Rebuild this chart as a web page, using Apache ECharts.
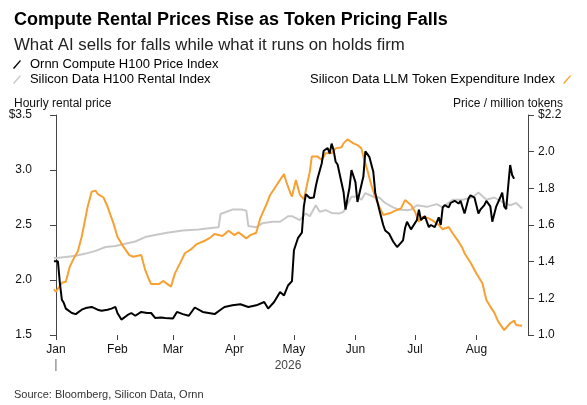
<!DOCTYPE html>
<html>
<head>
<meta charset="utf-8">
<script src="https://cdn.jsdelivr.net/npm/echarts@6/dist/echarts.min.js"></script>
<style>
html, body { margin: 0; padding: 0; background: #fff; }
#chart { width: 587px; height: 405px; }
</style>
</head>
<body>
<div id="chart"></div>
<script>
// days counted from Jan 1 2026
var ornnDays = [-1, 1, 2, 3, 4, 5, 8, 10, 13, 15, 18, 21, 23, 26, 28, 30, 31, 33, 36, 38, 40, 43, 46, 48, 50, 53, 55, 59, 61, 64, 67, 70, 74, 77, 80, 83, 85, 89, 93, 97, 101, 105, 107, 110, 113, 115, 117, 119, 120, 122, 124, 125, 126, 128, 130, 131, 132, 134, 135, 137, 138, 139, 140, 141, 142, 143, 145, 146, 147, 148, 149, 151, 152, 153, 155, 156, 158, 160, 161, 163, 165, 166, 168, 170, 172, 173, 175, 176, 177, 179, 180, 182, 183, 184, 186, 188, 189, 191, 193, 194, 195, 196, 198, 199, 201, 203, 204, 206, 208, 209, 211, 213, 214, 216, 217, 219, 220, 222, 224, 225, 226, 227, 228, 229, 230, 231];
var ornnPrice = [2.17, 2.17, 1.97, 1.82, 1.79, 1.74, 1.70, 1.69, 1.73, 1.745, 1.755, 1.73, 1.72, 1.73, 1.74, 1.755, 1.70, 1.64, 1.68, 1.70, 1.675, 1.71, 1.70, 1.70, 1.655, 1.66, 1.655, 1.65, 1.71, 1.69, 1.675, 1.75, 1.71, 1.70, 1.69, 1.73, 1.755, 1.77, 1.78, 1.755, 1.77, 1.80, 1.74, 1.80, 1.89, 1.86, 1.95, 1.99, 2.27, 2.38, 2.43, 2.67, 2.78, 2.745, 2.75, 2.85, 2.93, 3.06, 3.175, 3.20, 3.15, 3.24, 3.18, 3.075, 3.05, 3.06, 2.80, 2.64, 2.745, 2.84, 3.00, 2.89, 2.71, 2.70, 2.94, 3.17, 3.12, 2.985, 2.79, 2.64, 2.50, 2.45, 2.42, 2.35, 2.30, 2.32, 2.36, 2.47, 2.53, 2.46, 2.47, 2.545, 2.64, 2.545, 2.58, 2.48, 2.50, 2.48, 2.57, 2.50, 2.66, 2.68, 2.66, 2.70, 2.72, 2.695, 2.72, 2.605, 2.74, 2.77, 2.75, 2.605, 2.64, 2.68, 2.72, 2.67, 2.53, 2.67, 2.75, 2.795, 2.67, 2.645, 2.85, 3.045, 2.955, 2.92];

var rentalDays = [-1, 5, 10, 15, 20, 25, 30, 35, 40, 45, 50, 56, 64, 72, 77, 82, 83, 86, 89, 94, 96, 97, 101, 104, 109, 113, 117, 119, 123, 126, 128, 131, 133, 136, 139, 143, 145, 149, 151, 154, 156, 160, 163, 166, 170, 173, 177, 179, 182, 187, 192, 195, 200, 205, 210, 213, 217, 221, 226, 229, 232, 235];
var rentalPrice = [2.197, 2.21, 2.22, 2.24, 2.265, 2.30, 2.31, 2.33, 2.35, 2.39, 2.41, 2.43, 2.45, 2.46, 2.47, 2.48, 2.60, 2.62, 2.64, 2.64, 2.63, 2.49, 2.48, 2.515, 2.53, 2.53, 2.58, 2.58, 2.545, 2.605, 2.58, 2.68, 2.62, 2.635, 2.61, 2.605, 2.62, 2.757, 2.76, 2.73, 2.79, 2.757, 2.75, 2.70, 2.66, 2.64, 2.635, 2.64, 2.68, 2.665, 2.69, 2.66, 2.73, 2.73, 2.75, 2.795, 2.73, 2.75, 2.70, 2.68, 2.70, 2.65];

var tokenDays = [-1, 0, 3, 5, 7, 9, 11, 13, 15, 16, 17, 18, 20, 21, 24, 26, 29, 31, 34, 37, 39, 43, 45, 47, 48, 52, 54, 58, 60, 63, 65, 68, 71, 75, 78, 80, 84, 87, 90, 92, 96, 98, 101, 103, 106, 108, 111, 113, 115, 116, 118, 119, 121, 122, 123, 125, 126, 128, 129, 132, 134, 136, 139, 141, 144, 145, 147, 150, 152, 154, 155, 157, 159, 161, 163, 165, 166, 169, 172, 174, 176, 179, 181, 183, 185, 188, 190, 193, 195, 198, 200, 203, 205, 206, 209, 210, 212, 215, 217, 219, 221, 223, 226, 227, 229, 231, 232, 235];
var tokenPrice = [1.249, 1.236, 1.285, 1.29, 1.373, 1.418, 1.455, 1.536, 1.645, 1.70, 1.69, 1.782, 1.787, 1.77, 1.75, 1.70, 1.609, 1.536, 1.482, 1.436, 1.427, 1.436, 1.355, 1.30, 1.278, 1.278, 1.295, 1.264, 1.336, 1.40, 1.446, 1.467, 1.496, 1.514, 1.533, 1.551, 1.54, 1.569, 1.545, 1.56, 1.527, 1.545, 1.558, 1.636, 1.709, 1.764, 1.813, 1.846, 1.878, 1.84, 1.78, 1.755, 1.846, 1.846, 1.764, 1.74, 1.79, 1.891, 1.973, 1.973, 1.955, 1.991, 1.991, 2.018, 2.024, 2.045, 2.067, 2.045, 2.036, 2.018, 1.973, 1.90, 1.818, 1.75, 1.70, 1.655, 1.645, 1.667, 1.682, 1.691, 1.736, 1.709, 1.673, 1.618, 1.645, 1.636, 1.624, 1.60, 1.577, 1.589, 1.555, 1.509, 1.473, 1.446, 1.395, 1.391, 1.336, 1.282, 1.191, 1.155, 1.122, 1.073, 1.027, 1.031, 1.064, 1.078, 1.055, 1.05];

var monthDays = [0, 31, 59, 90, 120, 151, 181, 212];
var monthNames = ['Jan', 'Feb', 'Mar', 'Apr', 'May', 'Jun', 'Jul', 'Aug'];
var yearLabel = '2026';
var leftTickLabels = ['1.5', '2.0', '2.5', '3.0', '$3.5'];
var rightTickLabels = ['1.0', '1.2', '1.4', '1.6', '1.8', '2.0', '$2.2'];

function pairs(days, vals) {
    return days.map(function (d, i) {
        return [d, vals[i]];
    });
}

var font = 'Liberation Sans, Arial, sans-serif';
var myChart = echarts.init(document.getElementById('chart'));

var option = {
    animation: false,
    textStyle: {fontFamily: font},
    title: [
        {
            text: 'Compute Rental Prices Rise as Token Pricing Falls',
            left: 9, top: 6,
            textStyle: {fontSize: 18, fontWeight: 'bold', color: '#000', fontFamily: font}
        },
        {
            text: 'What AI sells for falls while what it runs on holds firm',
            left: 9, top: 32,
            textStyle: {fontSize: 16.8, fontWeight: 'normal', color: '#222', fontFamily: font}
        },
        {
            text: 'Hourly rental price',
            left: 9, top: 93,
            textStyle: {fontSize: 12, fontWeight: 'normal', color: '#111', fontFamily: font}
        },
        {
            text: 'Price / million tokens',
            right: 19, top: 93,
            textStyle: {fontSize: 12, fontWeight: 'normal', color: '#111', fontFamily: font}
        },
        {
            text: 'Source: Bloomberg, Silicon Data, Ornn',
            left: 9, top: 384,
            textStyle: {fontSize: 11, fontWeight: 'normal', color: '#333', fontFamily: font}
        }
    ],
    legend: [
        {
            orient: 'vertical',
            left: 8, top: 53,
            itemWidth: 8, itemHeight: 9, itemGap: 2,
            icon: 'path://M0,10 L9,0 L10,1.4 L1.4,11.4 Z',
            textStyle: {fontSize: 13, color: '#000', fontFamily: font, padding: [0, 0, 0, 4]},
            data: ['Ornn Compute H100 Price Index', 'Silicon Data H100 Rental Index']
        },
        {
            right: 11, top: 68,
            align: 'right',
            itemWidth: 8, itemHeight: 9,
            icon: 'path://M0,10 L9,0 L10,1.4 L1.4,11.4 Z',
            textStyle: {fontSize: 13, color: '#000', fontFamily: font, padding: [0, 3, 0, 0]},
            data: ['Silicon Data LLM Token Expenditure Index']
        }
    ],
    grid: {left: 48, right: 59, top: 115, bottom: 70},
    xAxis: {
        type: 'value',
        min: -4,
        max: 238,
        axisLine: {show: false},
        splitLine: {show: false},
        axisTick: {
            show: true, length: 5,
            lineStyle: {color: '#444'},
            customValues: monthDays
        },
        axisLabel: {
            margin: 9,
            fontSize: 12,
            color: '#111',
            customValues: monthDays,
            formatter: function (v) {
                return monthNames[monthDays.indexOf(v)];
            }
        }
    },
    yAxis: [
        {
            type: 'value',
            min: 1.5, max: 3.5, interval: 0.5,
            position: 'left',
            splitLine: {show: false},
            axisLine: {show: true, lineStyle: {color: '#444'}},
            axisTick: {show: true, length: 6, lineStyle: {color: '#444'}},
            axisLabel: {
                margin: 16, fontSize: 12, color: '#111',
                formatter: function (v, i) { return leftTickLabels[i]; }
            }
        },
        {
            type: 'value',
            min: 1.0, max: 2.2, interval: 0.2,
            position: 'right',
            splitLine: {show: false},
            axisLine: {show: true, lineStyle: {color: '#444'}},
            axisTick: {show: true, length: 6, lineStyle: {color: '#444'}},
            axisLabel: {
                margin: 10, fontSize: 12, color: '#111',
                formatter: function (v, i) { return rightTickLabels[i]; }
            }
        }
    ],
    series: [
        {
            name: 'Silicon Data H100 Rental Index',
            type: 'line',
            yAxisIndex: 0,
            showSymbol: false,
            color: '#c8c8c8',
            lineStyle: {width: 2, color: '#c8c8c8'},
            data: pairs(rentalDays, rentalPrice),
            z: 2
        },
        {
            name: 'Silicon Data LLM Token Expenditure Index',
            type: 'line',
            yAxisIndex: 1,
            showSymbol: false,
            color: '#f7a133',
            lineStyle: {width: 2, color: '#f7a133'},
            data: pairs(tokenDays, tokenPrice),
            z: 3
        },
        {
            name: 'Ornn Compute H100 Price Index',
            type: 'line',
            yAxisIndex: 0,
            showSymbol: false,
            color: '#000',
            lineStyle: {width: 2, color: '#000'},
            data: pairs(ornnDays, ornnPrice),
            z: 4
        }
    ]
};
myChart.setOption(option);

// year label under the month row, plus the small year tick at Jan
var janX = myChart.convertToPixel({xAxisIndex: 0}, monthDays[0]);
var midX = myChart.convertToPixel({xAxisIndex: 0}, 117);
myChart.setOption({
    graphic: [
        {
            type: 'line',
            shape: {x1: janX, y1: 359, x2: janX, y2: 371},
            style: {stroke: '#666', lineWidth: 1}
        },
        {
            type: 'text',
            x: midX, y: 360,
            style: {text: yearLabel, fill: '#444', font: '12px ' + font, textAlign: 'center'}
        }
    ]
});
</script>
</body>
</html>
